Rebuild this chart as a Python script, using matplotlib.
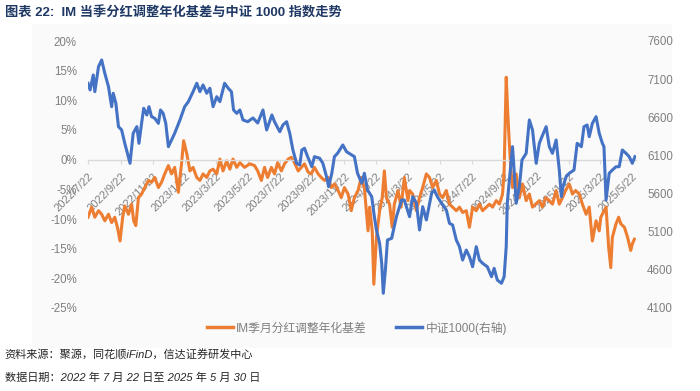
import numpy as np
import pandas as pd
import matplotlib
matplotlib.use("Agg")
import matplotlib.pyplot as plt
from matplotlib.lines import Line2D
from matplotlib.patches import Rectangle

plt.rcParams['font.family'] = ['Liberation Sans', 'Noto Sans CJK SC', 'DejaVu Sans']

# data (days since 2022-07-22)
start = pd.Timestamp('2022-07-22')

idx_days = [0, 4, 10, 13, 20, 26, 32, 39, 45, 48, 53, 58, 64, 70, 80, 86, 93, 97, 102, 106,
            112, 116, 121, 127, 134, 138, 143, 148, 153, 159, 165, 175, 184, 191, 200, 207, 213, 219, 226, 232,
            238, 245, 251, 260, 267, 273, 277, 283, 289, 295, 304, 314, 323, 333, 340, 350, 355, 365, 371, 378,
            384, 390, 397, 403, 407, 412, 418, 426, 431, 441, 447, 454, 458, 464, 469, 475, 485, 492, 502, 507,
            513, 521, 526, 532, 540, 545, 549, 555, 559, 562, 566, 570, 578, 587, 597, 602, 612, 618, 625, 631,
            637, 644, 654, 659, 665, 673, 682, 688, 694, 701, 707, 713, 720, 726, 732, 739, 745, 751, 760, 768,
            773, 779, 787, 792, 796, 798, 802, 808, 811, 815, 821, 826, 834, 840, 846, 853, 859, 864, 872, 878,
            884, 891, 897, 901, 904, 910, 916, 925, 931, 939, 944, 950, 954, 960, 967, 973, 979, 982, 986, 992,
            998, 1005, 1011, 1017, 1024, 1030, 1036, 1041]
idx_vals = [7046, 6958, 7155, 6936, 7263, 7351, 7177, 7001, 6739, 6915, 6784, 6477, 6434, 6259, 5997, 6390, 6477, 6259, 6521, 6718,
            6630, 6739, 6608, 6587, 6521, 6696, 6652, 6521, 6215, 6302, 6390, 6565, 6739, 6805, 6936, 7046, 6936, 7024, 6915, 6980,
            6739, 6870, 6805, 7046, 6980, 6936, 6696, 6652, 6696, 6565, 6542, 6591, 6525, 6696, 6434, 6630, 6542, 6411, 6499, 6542,
            6390, 6171, 5997, 5975, 6171, 6194, 6084, 5952, 6084, 6063, 5997, 5821, 5690, 5866, 6084, 6128, 6237, 6149, 6106, 6084,
            5866, 5735, 5866, 5647, 5559, 5297, 5123, 4948, 4686, 4293, 4598, 4991, 5014, 5297, 5516, 5516, 5297, 5559, 5477, 5123,
            5428, 5254, 5604, 5647, 5559, 5473, 5385, 5210, 5188, 4991, 4904, 4729, 4860, 4773, 4641, 4904, 4729, 4686, 4641, 4510,
            4620, 4467, 4424, 4510, 4904, 5473, 5778, 6215, 5909, 5473, 5690, 6040, 6128, 6565, 6434, 5997, 6259, 6346, 6477, 6215,
            6128, 6302, 5909, 5559, 5690, 5821, 5866, 5909, 6259, 6215, 6477, 6499, 6346, 6521, 6608, 6390, 6259, 6215, 5516, 5866,
            5909, 5952, 5952, 6171, 6128, 6084, 5997, 6084]

basis_days = [0, 7, 13, 20, 26, 32, 39, 45, 51, 56, 61, 66, 70, 77, 83, 87, 91, 96, 102, 108,
              115, 121, 127, 134, 140, 146, 153, 159, 165, 172, 178, 182, 188, 194, 200, 207, 213, 219, 226, 232,
              238, 245, 251, 257, 264, 270, 276, 283, 289, 298, 308, 317, 323, 330, 336, 342, 349, 355, 361, 368,
              374, 381, 387, 393, 400, 406, 412, 419, 425, 431, 438, 444, 450, 457, 463, 469, 476, 482, 488, 495,
              501, 507, 514, 520, 526, 533, 536, 541, 544, 549, 555, 560, 564, 568, 574, 579, 583, 590, 596, 602,
              609, 612, 618, 625, 631, 637, 644, 650, 656, 663, 669, 675, 682, 688, 694, 701, 707, 713, 720, 726,
              732, 739, 745, 751, 758, 764, 770, 777, 783, 789, 792, 796, 799, 802, 805, 808, 815, 821, 827, 834,
              840, 846, 852, 859, 865, 871, 878, 884, 891, 897, 903, 909, 916, 922, 928, 935, 941, 948, 954, 960,
              967, 973, 976, 979, 986, 991, 995, 998, 1005, 1010, 1014, 1021, 1027, 1033, 1036, 1040]
basis_vals = [-9.7, -8.0, -9.7, -8.6, -9.2, -10.3, -9.2, -10.6, -9.7, -11.4, -13.7, -9.7, -7.8, -9.2, -7.5, -10.3, -11.1, -6.4, -5.8, -4.7,
              -3.5, -3.8, -3.0, -4.7, -3.8, -2.4, -1.0, -2.4, -1.3, -5.5, -0.7, 3.2, 1.0, -1.9, -1.3, -3.0, -3.5, -2.4, -3.0, -1.9,
              -1.6, -2.4, 0.1, -1.9, -0.2, -1.6, 0.1, -1.3, -0.5, -1.3, -0.7, -1.0, -1.9, -3.5, -1.3, -3.0, -1.3, -2.4, -0.5, -1.9,
              -0.7, 0.1, 0.4, -0.5, -1.9, -1.3, -0.7, -2.1, -2.4, -1.3, -2.4, -3.0, -3.5, -3.0, -4.7, -4.1, -5.2, -6.4, -4.7, -5.8,
              -8.6, -6.4, -5.2, -3.0, -4.7, -12.0, -8.0, -12.0, -21.0, -13.1, -8.6, -6.4, -1.9, -6.4, -7.5, -11.4, -7.5, -5.2, -8.0, -3.0,
              -6.9, -5.2, -5.8, -8.6, -6.4, -4.7, -2.4, -3.0, -4.7, -3.5, -5.8, -6.4, -5.2, -7.5, -8.0, -8.6, -8.0, -8.9, -8.6, -11.4,
              -8.0, -8.6, -7.5, -8.6, -8.0, -7.5, -8.0, -6.9, -7.5, -5.8, -1.9, 13.9, 7.7, 2.6, -1.9, -4.7, -2.4, -6.4, -4.1, -6.9,
              -5.8, -8.0, -7.5, -6.9, -8.0, -6.4, -6.9, -7.5, -5.2, -7.5, -6.4, -5.2, -4.1, -5.8, -5.2, -5.8, -7.5, -9.2, -8.0, -13.7,
              -10.3, -12.0, -9.7, -9.2, -8.0, -14.8, -18.2, -13.1, -10.8, -9.7, -10.8, -11.4, -13.1, -15.3, -14.2, -13.4]

# x ticks every two months on the 22nd
tick_dates = [pd.Timestamp(2022, 7, 22) + pd.DateOffset(months=2 * i) for i in range(18)]
tick_labels = [f"{d.year}/{d.month}/{d.day}" for d in tick_dates]

left_ticks = [20, 15, 10, 5, 0, -5, -10, -15, -20, -25]
right_ticks = [7600, 7100, 6600, 6100, 5600, 5100, 4600, 4100]

orange = '#ED7D31'
blue = '#4472C4'
grey = '#7F7F7F'

idx_dates = start + pd.to_timedelta(idx_days, unit='D')
basis_dates = start + pd.to_timedelta(basis_days, unit='D')

fig = plt.figure(figsize=(7, 3.91), dpi=100)
# faint chart panel behind plot and legend
fig.patches.append(Rectangle((32 / 700, 1 - 348 / 391), (672 - 32) / 700, (348 - 24) / 391,
                             transform=fig.transFigure, facecolor='#FAFAFA', edgecolor='none', zorder=-10))

ax = fig.add_axes([88 / 700, 1 - 308 / 391, (636 - 88) / 700, (308 - 41) / 391])
ax2 = ax.twinx()

ax.plot(basis_dates, basis_vals, color=orange, lw=2.2, solid_joinstyle='round')
ax2.plot(idx_dates, idx_vals, color=blue, lw=2.2, solid_joinstyle='round')

ax.set_ylim(-25, 20)
ax.set_yticks(left_ticks)
ax.set_yticklabels([f"{v}%" for v in left_ticks])
ax2.set_ylim(4100, 7600)
ax2.set_yticks(right_ticks)
ax2.set_yticklabels([str(v) for v in right_ticks])

ax.set_xlim(start, pd.Timestamp('2025-05-30'))
ax.set_xticks(tick_dates)
ax.set_xticklabels(tick_labels)

for a in (ax, ax2):
    for s in ('top', 'left', 'right', 'bottom'):
        a.spines[s].set_visible(False)
    a.patch.set_visible(False)
ax.spines['bottom'].set_visible(True)
ax.spines['bottom'].set_position(('data', 0))
ax.spines['bottom'].set_color('#D9D9D9')
ax.spines['bottom'].set_linewidth(1.0)

ax.tick_params(axis='x', colors='#D9D9D9', labelcolor=grey, labelsize=8, length=3, pad=5)
ax.tick_params(axis='y', length=0, labelcolor=grey, labelsize=8.3, pad=8)
ax2.tick_params(axis='y', length=0, labelcolor=grey, labelsize=8.3, pad=8)
plt.setp(ax.get_xticklabels(), rotation=45, ha='right', va='top', rotation_mode='anchor')

handles = [Line2D([], [], color=orange, lw=2.5), Line2D([], [], color=blue, lw=2.5)]
fig.legend(handles, ['IM季月分红调整年化基差', '中证1000(右轴)'], loc='center',
           bbox_to_anchor=(0.51, 1 - 328 / 391), ncol=2, frameon=False, fontsize=8.5,
           labelcolor=grey, handlelength=2.2, handletextpad=0.3, columnspacing=2.5)

fig.text(0.007, 1 - 13 / 391, '图表 22:  IM 当季分红调整年化基差与中证 1000 指数走势',
         fontsize=9.5, fontweight='bold', color='#1F3864', va='center', ha='left')
fig.text(0.007, 1 - 355 / 391, '资料来源：聚源，同花顺iFinD，信达证券研发中心',
         fontsize=8, color='#262626', va='center', ha='left', style='italic')
fig.text(0.007, 1 - 378 / 391, '数据日期：2022 年 7 月 22 日至 2025 年 5 月 30 日',
         fontsize=8, color='#262626', va='center', ha='left', style='italic')

fig.savefig('out.png', dpi=100)
